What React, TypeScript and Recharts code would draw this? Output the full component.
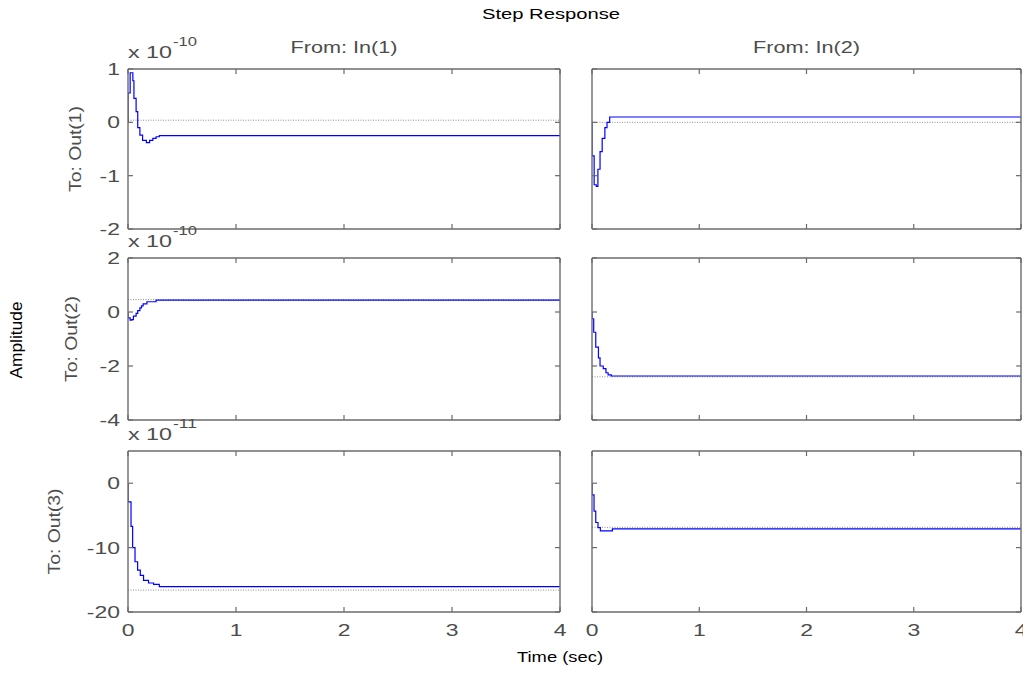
import React from "react";
import { LineChart, Line, XAxis, YAxis, ReferenceLine } from "recharts";

// step response samples (time in sec, amplitude in the panel's x 10^n units)
const tOut1In1 = [0, 0, 0.02, 0.045, 0.055, 0.075, 0.09, 0.11, 0.135, 0.17, 0.2, 0.23, 0.26, 0.29, 4];
const yOut1In1 = [0, 0.55, 0.93, 0.78, 0.45, 0.2, -0.1, -0.24, -0.34, -0.38, -0.34, -0.3, -0.27, -0.25, -0.25];
const tOut1In2 = [0, 0, 0.02, 0.04, 0.055, 0.075, 0.095, 0.12, 0.14, 0.165, 4];
const yOut1In2 = [0, -0.63, -1.17, -1.2, -0.88, -0.55, -0.3, -0.1, 0, 0.1, 0.1];
const tOut2In1 = [0, 0, 0.02, 0.035, 0.05, 0.075, 0.09, 0.11, 0.125, 0.14, 0.175, 0.26, 4];
const yOut2In1 = [0, -0.22, -0.3, -0.28, -0.15, -0.05, 0.05, 0.15, 0.23, 0.3, 0.38, 0.44, 0.44];
const tOut2In2 = [0, 0, 0.016, 0.035, 0.06, 0.075, 0.105, 0.13, 0.15, 0.18, 4];
const yOut2In2 = [0, -0.25, -0.75, -1.3, -1.7, -2.0, -2.1, -2.25, -2.33, -2.37, -2.37];
const tOut3In1 = [0, 0, 0.028, 0.043, 0.065, 0.089, 0.114, 0.144, 0.19, 0.237, 0.29, 4];
const yOut3In1 = [0, -2.9, -6.7, -10, -12.2, -13.5, -14.3, -15.1, -15.5, -15.7, -16.06, -16.06];
const tOut3In2 = [0, 0, 0.019, 0.035, 0.056, 0.078, 0.19, 4];
const yOut3In2 = [0, -1.8, -4.35, -6.1, -6.9, -7.4, -7.1, -7.1];

// steady-state (dotted) values
const steadyState = [
  [0.04, 0],
  [0.46, -2.4],
  [-16.6, -6.85],
];

const timeTicks = [0, 1, 2, 3, 4];
const rowDomains = [[-2, 1], [-4, 2], [-20, 5]];
const rowTicks = [[-2, -1, 0, 1], [-4, -2, 0, 2], [-20, -10, 0]];
const rowExponents = ["-10", "-10", "-11"];
const inputLabels = ["From: In(1)", "From: In(2)"];
const outputLabels = ["To: Out(1)", "To: Out(2)", "To: Out(3)"];

const zip = (t: number[], v: number[]) => t.map((tt, i) => ({ t: tt, v: v[i] }));
const panelData = [
  [zip(tOut1In1, yOut1In1), zip(tOut1In2, yOut1In2)],
  [zip(tOut2In1, yOut2In1), zip(tOut2In2, yOut2In2)],
  [zip(tOut3In1, yOut3In1), zip(tOut3In2, yOut3In2)],
];

const BOX = "#6b6b6b";
const TXT = "#4d4d4d";
const FONT = "'Liberation Sans', Arial, sans-serif";
const SX = 1.35;

const COL_X = [128, 592];
const COL_W = [432, 429];
const ROW_Y = [69, 258, 451];
const ROW_H = [160, 162, 161];
const ML = 110, MT = 40, MR = 12, MB = 40;

const XTick = (p: any) => {
  const { x, y, payload, dir, label } = p;
  return (
    <g>
      <line x1={x} x2={x} y1={y} y2={y + dir * 5} stroke={BOX} strokeWidth={1.2} />
      {label && (
        <text transform={`translate(${x},${y + 24}) scale(${SX},1)`} textAnchor="middle"
          fontSize={17} fontFamily={FONT} fill={TXT}>{payload.value}</text>
      )}
    </g>
  );
};

const YTick = (p: any) => {
  const { x, y, payload, dir, label } = p;
  return (
    <g>
      <line x1={x} x2={x + dir * 5} y1={y} y2={y} stroke={BOX} strokeWidth={1.2} />
      {label && (
        <text transform={`translate(${x - 8},${y}) scale(${SX},1)`} textAnchor="end" dy="0.36em"
          fontSize={17} fontFamily={FONT} fill={TXT}>{payload.value}</text>
      )}
    </g>
  );
};

function Panel({ row, col }: { row: number; col: number }) {
  const axisLine = { stroke: BOX, strokeWidth: 1.4 };
  const common = { tickSize: 0, tickMargin: 0, tickLine: false, interval: 0 as const, allowDataOverflow: true, axisLine };
  return (
    <div style={{ position: "absolute", left: COL_X[col] - ML, top: ROW_Y[row] - MT }}>
      <LineChart
        width={COL_W[col] + ML + MR}
        height={ROW_H[row] + MT + MB}
        data={panelData[row][col]}
        margin={{ top: MT - 1, right: MR - 1, bottom: MB - 1, left: ML - 1 }}
      >
        <XAxis xAxisId="b" dataKey="t" type="number" domain={[0, 4]} ticks={timeTicks} height={1} {...common}
          tick={(tp: any) => <XTick {...tp} dir={-1} label={row === 2} />} />
        <XAxis xAxisId="t" orientation="top" dataKey="t" type="number" domain={[0, 4]} ticks={timeTicks} height={1} {...common}
          tick={(tp: any) => <XTick {...tp} dir={1} label={false} />} />
        <YAxis yAxisId="l" type="number" domain={rowDomains[row]} ticks={rowTicks[row]} width={1} {...common}
          tick={(tp: any) => <YTick {...tp} dir={1} label={col === 0} />} />
        <YAxis yAxisId="r" orientation="right" type="number" domain={rowDomains[row]} ticks={rowTicks[row]} width={1} {...common}
          tick={(tp: any) => <YTick {...tp} dir={-1} label={false} />} />
        <ReferenceLine xAxisId="b" yAxisId="l" y={steadyState[row][col]} stroke="#8f8f8f" strokeDasharray="1 1.5" strokeWidth={1} />
        <Line xAxisId="b" yAxisId="l" dataKey="v" type="stepAfter" stroke="#0000ff" strokeWidth={1.2}
          dot={false} isAnimationActive={false} />
      </LineChart>
    </div>
  );
}

export default function App() {
  const outBaseX = [81, 77, 60];
  return (
    <div style={{ position: "absolute", left: 0, top: 0, width: 1023, height: 673, overflow: "hidden", background: "#fff" }}>
      {[0, 1, 2].map((r) => [0, 1].map((c) => <Panel key={`${r}-${c}`} row={r} col={c} />))}
      <svg width={1023} height={673} style={{ position: "absolute", left: 0, top: 0, pointerEvents: "none" }} fontFamily={FONT}>
        <text x={551} y={19} textAnchor="middle" fontSize={15} fill="#000" textLength={138} lengthAdjust="spacingAndGlyphs">Step Response</text>
        {inputLabels.map((s, c) => (
          <text key={s} x={COL_X[c] + COL_W[c] / 2} y={53} textAnchor="middle" fontSize={16} fill={TXT}
            textLength={107} lengthAdjust="spacingAndGlyphs">{s}</text>
        ))}
        {outputLabels.map((s, r) => (
          <text key={s} transform={`translate(${outBaseX[r]},${ROW_Y[r] + ROW_H[r] / 2}) rotate(-90)`} textAnchor="middle"
            fontSize={16} fill={TXT} textLength={86} lengthAdjust="spacingAndGlyphs">{s}</text>
        ))}
        <text transform="translate(22,340) rotate(-90)" textAnchor="middle" fontSize={16} fill="#000"
          textLength={77} lengthAdjust="spacingAndGlyphs">Amplitude</text>
        <text x={560} y={662} textAnchor="middle" fontSize={15} fill="#000" textLength={86} lengthAdjust="spacingAndGlyphs">Time (sec)</text>
        {rowExponents.map((e, r) => (
          <g key={r}>
            <text x={128} y={ROW_Y[r] - 11} fontSize={17} fill={TXT} textLength={44} lengthAdjust="spacingAndGlyphs">x 10</text>
            <text x={173} y={ROW_Y[r] - 23} fontSize={12} fill={TXT} textLength={24} lengthAdjust="spacingAndGlyphs">{e}</text>
          </g>
        ))}
      </svg>
    </div>
  );
}
